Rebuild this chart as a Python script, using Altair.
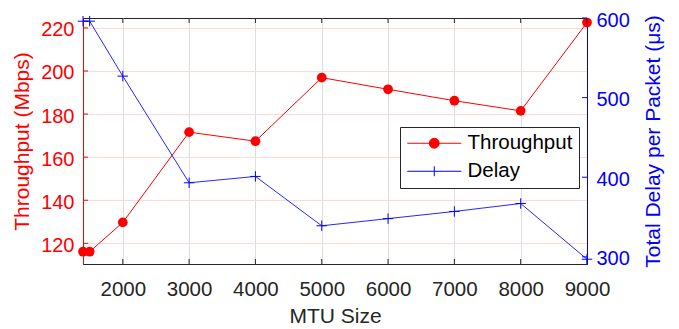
import altair as alt
import pandas as pd

# ---- data ----
mtu = [1400, 1500, 2000, 3000, 4000, 5000, 6000, 7000, 8000, 9000]
throughput = [116.1, 116.1, 129.7, 171.6, 167.4, 196.9, 191.5, 186.2, 181.5, 222.5]
delay = [596, 596, 527, 393, 401, 339, 348, 357, 367, 297]
x_ticks = [2000, 3000, 4000, 5000, 6000, 7000, 8000, 9000]
left_ticks = [120, 140, 160, 180, 200, 220]
right_ticks = [300, 400, 500, 600]
series = ["Throughput", "Delay"]

W, H = 504, 246
FONT = "Liberation Sans"
RED = "#ff0000"
BLUE = "#0000ff"
DARK = "#262626"

df = pd.DataFrame({"mtu": mtu, "throughput": throughput, "delay": delay})
xt = pd.DataFrame({"v": x_ticks})
lt = pd.DataFrame({"v": left_ticks})
rt = pd.DataFrame({"v": right_ticks})
lg = pd.DataFrame({"series": series})

xscale = alt.Scale(domain=[1400, 9000], nice=False, zero=False)
lscale = alt.Scale(domain=[110.4, 224.6], nice=False, zero=False)
rscale = alt.Scale(domain=[291, 600], nice=False, zero=False)

x_axis = alt.Axis(values=x_ticks, title="MTU Size", ticks=False, labelPadding=15,
                  titlePadding=6, grid=True, gridColor="#dedede", domainColor=DARK,
                  labelColor=DARK, titleColor=DARK, labelFontSize=20.5, titleFontSize=21,
                  titleFontWeight="normal", labelFlush=False, labelOverlap=False, format="d")
left_axis = alt.Axis(values=left_ticks, title="Throughput (Mbps)", orient="left", ticks=False,
                     labelPadding=9, titlePadding=8, grid=True, gridColor="#ffd9d9",
                     domainColor=RED, labelColor=RED, titleColor=RED, labelFontSize=20,
                     labelOffset=2, titleFontSize=21, titleFontWeight="normal", format="d")
right_axis = alt.Axis(values=right_ticks, title="Total Delay per Packet (\u03bcs)", orient="right",
                      ticks=False, labelPadding=9, titlePadding=13, grid=False,
                      domainColor=BLUE, labelColor=BLUE, titleColor=BLUE, labelFontSize=20,
                      labelOffset=2, titleFontSize=21, titleFontWeight="normal", titleAngle=270,
                      titleBaseline="top", format="d")


def X(field):
    return alt.X(field, scale=xscale, axis=x_axis)


def YL(field):
    return alt.Y(field, scale=lscale, axis=left_axis)


def YR(field):
    return alt.Y(field, scale=rscale, axis=right_axis)


base = alt.Chart(df)

# ---- throughput (left axis) ----
thr_line = base.mark_line(color=RED, strokeWidth=1).encode(
    x=X("mtu:Q"), y=YL("throughput:Q")
)
thr_pts = base.mark_circle(color=RED, size=95, opacity=1).encode(
    x=X("mtu:Q"), y=YL("throughput:Q")
)
left_tick_marks = alt.Chart(lt).mark_rule(color=RED, strokeWidth=1).encode(
    y=YL("v:Q"), x=alt.value(0), x2=alt.value(5)
)
bottom_ticks = alt.Chart(xt).mark_rule(color=DARK, strokeWidth=1).encode(
    x=X("v:Q"), y=alt.value(H), y2=alt.value(H - 5)
)
top_ticks = alt.Chart(xt).mark_rule(color=DARK, strokeWidth=1).encode(
    x=X("v:Q"), y=alt.value(0), y2=alt.value(5)
)

legend = alt.Legend(orient="none", legendX=317, legendY=109, title=None, symbolSize=324,
                    symbolStrokeWidth=1, labelFontSize=20.5, labelFont=FONT, labelColor="#000000",
                    labelOffset=41, padding=6, rowPadding=7, strokeColor=DARK, fillColor="white",
                    symbolOpacity=1)
thr_sym = "M-1,0H5M1.45,0A0.55,0.55,0,1,0,2.55,0A0.55,0.55,0,1,0,1.45,0Z"
del_sym = "M-1,0H5M2,-0.55V0.55"
legend_layer = alt.Chart(lg).mark_point(size=0, opacity=0).encode(
    fill=alt.Fill("series:N", scale=alt.Scale(domain=series, range=[RED, "transparent"]), legend=legend),
    stroke=alt.Stroke("series:N", scale=alt.Scale(domain=series, range=[RED, BLUE]), legend=legend),
    shape=alt.Shape("series:N", scale=alt.Scale(domain=series, range=[thr_sym, del_sym]), legend=legend),
)

left = alt.layer(thr_line, thr_pts, left_tick_marks, bottom_ticks, top_ticks, legend_layer)

# ---- delay (right axis) ----
del_line = base.mark_line(color=BLUE, strokeWidth=1, opacity=0.85).encode(
    x=X("mtu:Q"), y=YR("delay:Q")
)
del_pts = base.mark_point(shape="M-1,0H1M0,-1V1", size=110, color=BLUE, strokeWidth=1,
                          filled=False, opacity=1).encode(
    x=X("mtu:Q"), y=YR("delay:Q")
)
right_tick_marks = alt.Chart(rt).mark_rule(color=BLUE, strokeWidth=1).encode(
    y=YR("v:Q"), x=alt.value(W), x2=alt.value(W - 5)
)
right = alt.layer(del_line, del_pts, right_tick_marks)

chart = (
    alt.layer(left, right)
    .resolve_scale(y="independent")
    .properties(
        width=W, height=H,
        autosize=alt.AutoSizeParams(type="none"),
        padding={"left": 75, "top": 10, "right": 84, "bottom": 70},
    )
    .configure(font=FONT)
    .configure_view(stroke=DARK, strokeWidth=1)
)

chart.save("out.html", embed_options={"renderer": "svg", "actions": False})
